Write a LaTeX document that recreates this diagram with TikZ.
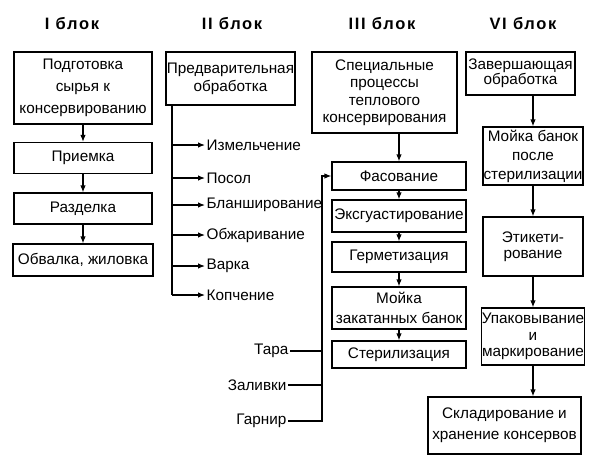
\documentclass[tikz,border=0pt]{standalone}
\usepackage{fontspec}
\setmainfont{Liberation Sans}
\newfontfamily\headfont[LetterSpace=10]{Liberation Sans}
\usepackage{tikz}
\usetikzlibrary{arrows.meta,shapes}

\begin{document}
\begin{tikzpicture}[x=1pt,y=-1pt,>={Latex[length=7pt,width=5.5pt]},line width=1.2pt,
  blok/.style={draw, rectangle, align=center, inner sep=0pt, font=\fontsize{15.3}{18}\selectfont},
  head/.style={font=\headfont\bfseries\fontsize{16.5}{18}\selectfont},
  item/.style={inner sep=1pt, font=\fontsize{15.3}{18}\selectfont}]
\useasboundingbox (0,0) rectangle (600,461);

\node[head] (h1) at (72,24) {I блок};
\node[head] (h2) at (232,24) {II блок};
\node[head] (h3) at (382,24) {III блок};
\node[head] (h4) at (523,24) {VI блок};

% I blok
\node[blok, minimum width=138, minimum height=72, font=\fontsize{15.3}{22}\selectfont] (pod) at (83,88) {Подготовка\\сырья к\\консервированию};
\node[blok, minimum width=138, minimum height=31] (priem) at (83,158) {Приемка};
\node[blok, minimum width=138, minimum height=31] (razd) at (83,208.5) {Разделка};
\node[blok, minimum width=140, minimum height=32] (obval) at (83,260) {Обвалка, жиловка};
\draw[->] (pod) -- (priem);
\draw[->] (priem) -- (razd);
\draw[->] (razd) -- (obval);

% II blok
\node[blok, minimum width=129, minimum height=53] (pred) at (230.5,78.5) {Предварительная\\обработка};
\coordinate (stv) at (172,295);
\draw (pred.south -| stv) -- (stv);
\node[item, anchor=west] (izm) at (205,145) {Измельчение};
\node[item, anchor=west] (posol) at (205,178) {Посол};
\node[item, anchor=west] (blansh) at (205,205) {Бланширование};
\node[item, anchor=west] (obzh) at (205,235) {Обжаривание};
\node[item, anchor=west] (varka) at (205,266) {Варка};
\node[item, anchor=west] (kopch) at (205,295) {Копчение};
\draw[->] (izm.west -| stv) -- (izm.west);
\draw[->] (posol.west -| stv) -- (posol.west);
\draw[->] (blansh.west -| stv) -- (blansh.west);
\draw[->] (obzh.west -| stv) -- (obzh.west);
\draw[->] (varka.west -| stv) -- (varka.west);
\draw[->] (kopch.west -| stv) -- (kopch.west);

% III blok
\node[blok, minimum width=145, minimum height=81, font=\fontsize{15.3}{17.5}\selectfont] (spec) at (384.5,92.5) {Специальные\\процессы\\теплового\\консервирования};
\node[blok, minimum width=134, minimum height=28] (fas) at (399,176) {Фасование};
\node[blok, minimum width=134, minimum height=32] (eksg) at (399,216) {Эксгуастирование};
\node[blok, minimum width=134, minimum height=30] (germ) at (399,257) {Герметизация};
\node[blok, minimum width=134, minimum height=42, font=\fontsize{15.3}{20}\selectfont] (moika) at (399,308) {Мойка\\закатанных банок};
\node[blok, minimum width=134, minimum height=27] (ster) at (399,354.5) {Стерилизация};
\draw[->] (spec.south -| fas.north) -- (fas.north);
\draw[->] (fas) -- (eksg);
\draw[->] (eksg) -- (germ);
\draw[->] (germ) -- (moika);
\draw[->] (moika) -- (ster);

\coordinate (fv) at (322,176);
\node[item, anchor=east] (tara) at (290,351) {Тара};
\node[item, anchor=east] (zal) at (288,385) {Заливки};
\node[item, anchor=east] (garn) at (288,421) {Гарнир};
\draw[->] (garn.east) -| (fv) -- (fas.west);
\draw (tara.east) -- (tara.east -| fv);
\draw (zal.east) -- (zal.east -| fv);

% VI blok
\node[blok, minimum width=109, minimum height=43, font=\fontsize{15.3}{15}\selectfont] (zav) at (520.5,73.5) {Завершающая\\обработка};
\node[blok, minimum width=100, minimum height=58, font=\fontsize{15.3}{19}\selectfont] (moikab) at (533,156) {Мойка банок\\после\\стерилизации};
\node[blok, minimum width=100, minimum height=59, font=\fontsize{15.3}{16}\selectfont] (etik) at (533,246.5) {Этикети-\\рование};
\node[blok, minimum width=101, minimum height=57, font=\fontsize{15.3}{16.5}\selectfont] (upak) at (533,336.5) {Упаковывание\\и\\маркирование};
\node[blok, minimum width=153, minimum height=57, font=\fontsize{15.3}{21}\selectfont] (sklad) at (504.5,425.5) {Складирование и\\хранение консервов};
\draw[->] (zav.south -| moikab.north) -- (moikab.north);
\draw[->] (moikab) -- (etik);
\draw[->] (etik) -- (upak);
\draw[->] (upak.south) -- (upak.south |- sklad.north);

\end{tikzpicture}
\end{document}
